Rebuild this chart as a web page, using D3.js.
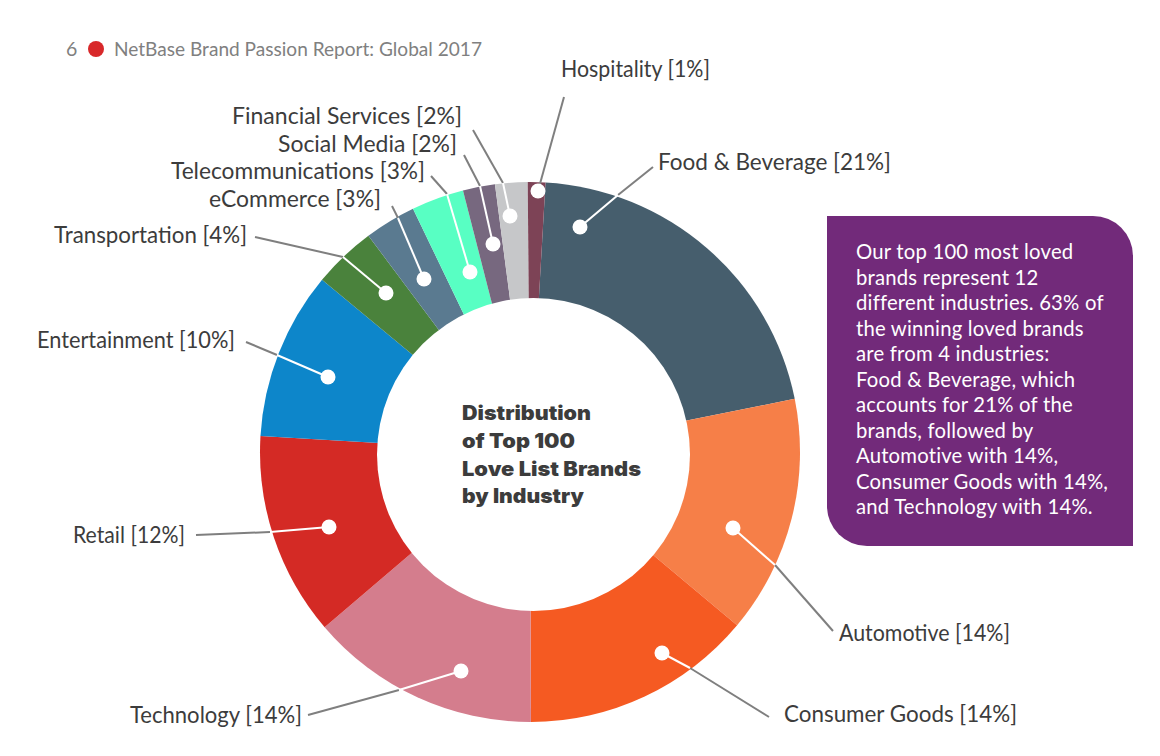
<!DOCTYPE html>
<html lang="en">
<head>
    <meta charset="UTF-8">
    <title>Distribution of Top 100 Love List Brands by Industry</title>
    <script src="https://d3js.org/d3.v7.min.js"></script>
    <style>
        body { margin: 0; background: #fff; font-family: 'Lato', sans-serif; }
        svg { display: block; }
        .label { font-size: 22.5px; fill: #3c3c3c; }
        .head { font-size: 19.5px; fill: #808080; }
        .title { font-family: 'Inter', sans-serif; font-size: 20px; font-weight: 900; fill: #3c3c3c; }
        .note { font-size: 20.3px; fill: #fff; letter-spacing: 0.2px; }
    </style>
</head>
<body>
    <script>
        const categories = ["Food & Beverage", "Automotive", "Consumer Goods", "Technology", "Retail", "Entertainment",
            "Transportation", "eCommerce", "Telecommunications", "Social Media", "Financial Services", "Hospitality"];
        // printed in the labels
        const shares = [21, 14, 14, 14, 12, 10, 4, 3, 3, 2, 2, 1];
        // slice sizes as read off the ring, they are not quite the rounded label values
        const sliceValues = [20.93, 14.24, 13.86, 13.81, 12.19, 10.06, 3.78, 3.08, 3.14, 1.92, 1.94, 1.05];
        const sliceColors = ["#465e6d", "#f67f48", "#f55a22", "#d47d8d", "#d42a25", "#0d86ca",
            "#4a823c", "#5a7a90", "#58ffc3", "#77687f", "#c6c7c9", "#7d4356"];

        const titleLines = ["Distribution", "of Top 100", "Love List Brands", "by Industry"];
        const noteLines = ["Our top 100 most loved", "brands represent 12", "different industries. 63% of",
            "the winning loved brands", "are from 4 industries:", "Food & Beverage, which",
            "accounts for 21% of the", "brands, followed by", "Automotive with 14%,",
            "Consumer Goods with 14%,", "and Technology with 14%."];

        // callout placement, same order as categories: dot, point on the rim, line end, label left/baseline/width
        const callouts = [
            { dot: [580, 227], rim: [618, 195], end: [653, 167], text: [658, 170, 233] },
            { dot: [733, 528], rim: [775, 565], end: [833, 631], text: [839, 641, 171] },
            { dot: [662, 653], rim: [690, 668], end: [769, 717], text: [784, 722, 233] },
            { dot: [461, 671], rim: [399, 690], end: [308, 715], text: [130, 723, 172] },
            { dot: [329, 527], rim: [270, 532], end: [196, 535], text: [73, 543, 112] },
            { dot: [328, 377], rim: [277, 355], end: [246, 342], text: [37, 348, 198] },
            { dot: [386, 293], rim: [343, 257], end: [255, 237], text: [54, 243, 193] },
            { dot: [424, 279], rim: [398, 218], end: [392, 206], text: [209, 207, 172] },
            { dot: [470, 272], rim: [447, 194], end: [431, 176], text: [171, 179, 254] },
            { dot: [493, 244], rim: [480, 186], end: [464, 155], text: [278, 152, 179] },
            { dot: [510, 216], rim: [503, 183], end: [473, 130], text: [232, 124, 230] },
            { dot: [538, 191], rim: [538, 191], end: [564, 97], text: [561, 77, 149] }
        ];

        const width = 1160, height = 756;
        const cx = 530, cy = 452, outerRadius = 270;
        const startAngle = 3.3 * Math.PI / 180;

        const svg = d3.select("body").append("svg")
            .attr("width", width)
            .attr("height", height);

        // header
        svg.append("text").attr("class", "head").attr("x", 66).attr("y", 56).text("6");
        svg.append("circle").attr("cx", 96).attr("cy", 49).attr("r", 8).attr("fill", "#d8282a");
        svg.append("text").attr("class", "head").attr("x", 114).attr("y", 56)
            .attr("textLength", 368).attr("lengthAdjust", "spacingAndGlyphs")
            .text("NetBase Brand Passion Report: Global 2017");

        // donut, the hole sits a little off centre so it is a separate circle on top
        const pie = d3.pie().sort(null).startAngle(startAngle).endAngle(startAngle + 2 * Math.PI);
        const arc = d3.arc().innerRadius(0).outerRadius(outerRadius);

        svg.append("g")
            .attr("transform", `translate(${cx},${cy})`)
            .selectAll("path")
            .data(pie(sliceValues))
            .enter().append("path")
            .attr("d", arc)
            .attr("fill", (d, i) => sliceColors[i]);

        svg.append("circle")
            .attr("cx", 533.5)
            .attr("cy", 454.5)
            .attr("r", 156.5)
            .attr("fill", "#fff");

        // leader lines: white inside the ring, grey outside
        const leaders = svg.append("g").attr("stroke-width", 2).attr("fill", "none");
        leaders.selectAll(".outside")
            .data(callouts)
            .enter().append("line")
            .attr("class", "outside")
            .attr("stroke", "#7f7f7f")
            .attr("x1", d => d.rim[0]).attr("y1", d => d.rim[1])
            .attr("x2", d => d.end[0]).attr("y2", d => d.end[1]);
        leaders.selectAll(".inside")
            .data(callouts)
            .enter().append("line")
            .attr("class", "inside")
            .attr("stroke", "#fff")
            .attr("x1", d => d.dot[0]).attr("y1", d => d.dot[1])
            .attr("x2", d => d.rim[0]).attr("y2", d => d.rim[1]);

        svg.append("g").selectAll("circle")
            .data(callouts)
            .enter().append("circle")
            .attr("cx", d => d.dot[0])
            .attr("cy", d => d.dot[1])
            .attr("r", 7.5)
            .attr("fill", "#fff");

        svg.append("g").selectAll("text")
            .data(callouts)
            .enter().append("text")
            .attr("class", "label")
            .attr("x", d => d.text[0])
            .attr("y", d => d.text[1])
            .attr("textLength", d => d.text[2])
            .attr("lengthAdjust", "spacingAndGlyphs")
            .text((d, i) => `${categories[i]} [${shares[i]}%]`);

        // centre title
        const titleBaselines = [420, 447.5, 476, 503];
        const titleWidths = [129, 113, 179, 122];
        svg.append("g").selectAll("text")
            .data(titleLines)
            .enter().append("text")
            .attr("class", "title")
            .attr("x", 462)
            .attr("y", (d, i) => titleBaselines[i])
            .attr("textLength", (d, i) => titleWidths[i])
            .attr("lengthAdjust", "spacingAndGlyphs")
            .text(d => d);

        // purple note box, square top-left and bottom-right corners
        const bx = 827, by = 216, bw = 306, bh = 330, br = 40;
        const box = d3.path();
        box.moveTo(bx, by);
        box.lineTo(bx + bw - br, by);
        box.arcTo(bx + bw, by, bx + bw, by + br, br);
        box.lineTo(bx + bw, by + bh);
        box.lineTo(bx + br, by + bh);
        box.arcTo(bx, by + bh, bx, by + bh - br, br);
        box.closePath();
        svg.append("path").attr("d", box.toString()).attr("fill", "#722a7a");

        svg.append("g").selectAll("text")
            .data(noteLines)
            .enter().append("text")
            .attr("class", "note")
            .attr("x", 856)
            .attr("y", (d, i) => 259 + i * 25.5)
            .text(d => d);
    </script>
</body>
</html>
